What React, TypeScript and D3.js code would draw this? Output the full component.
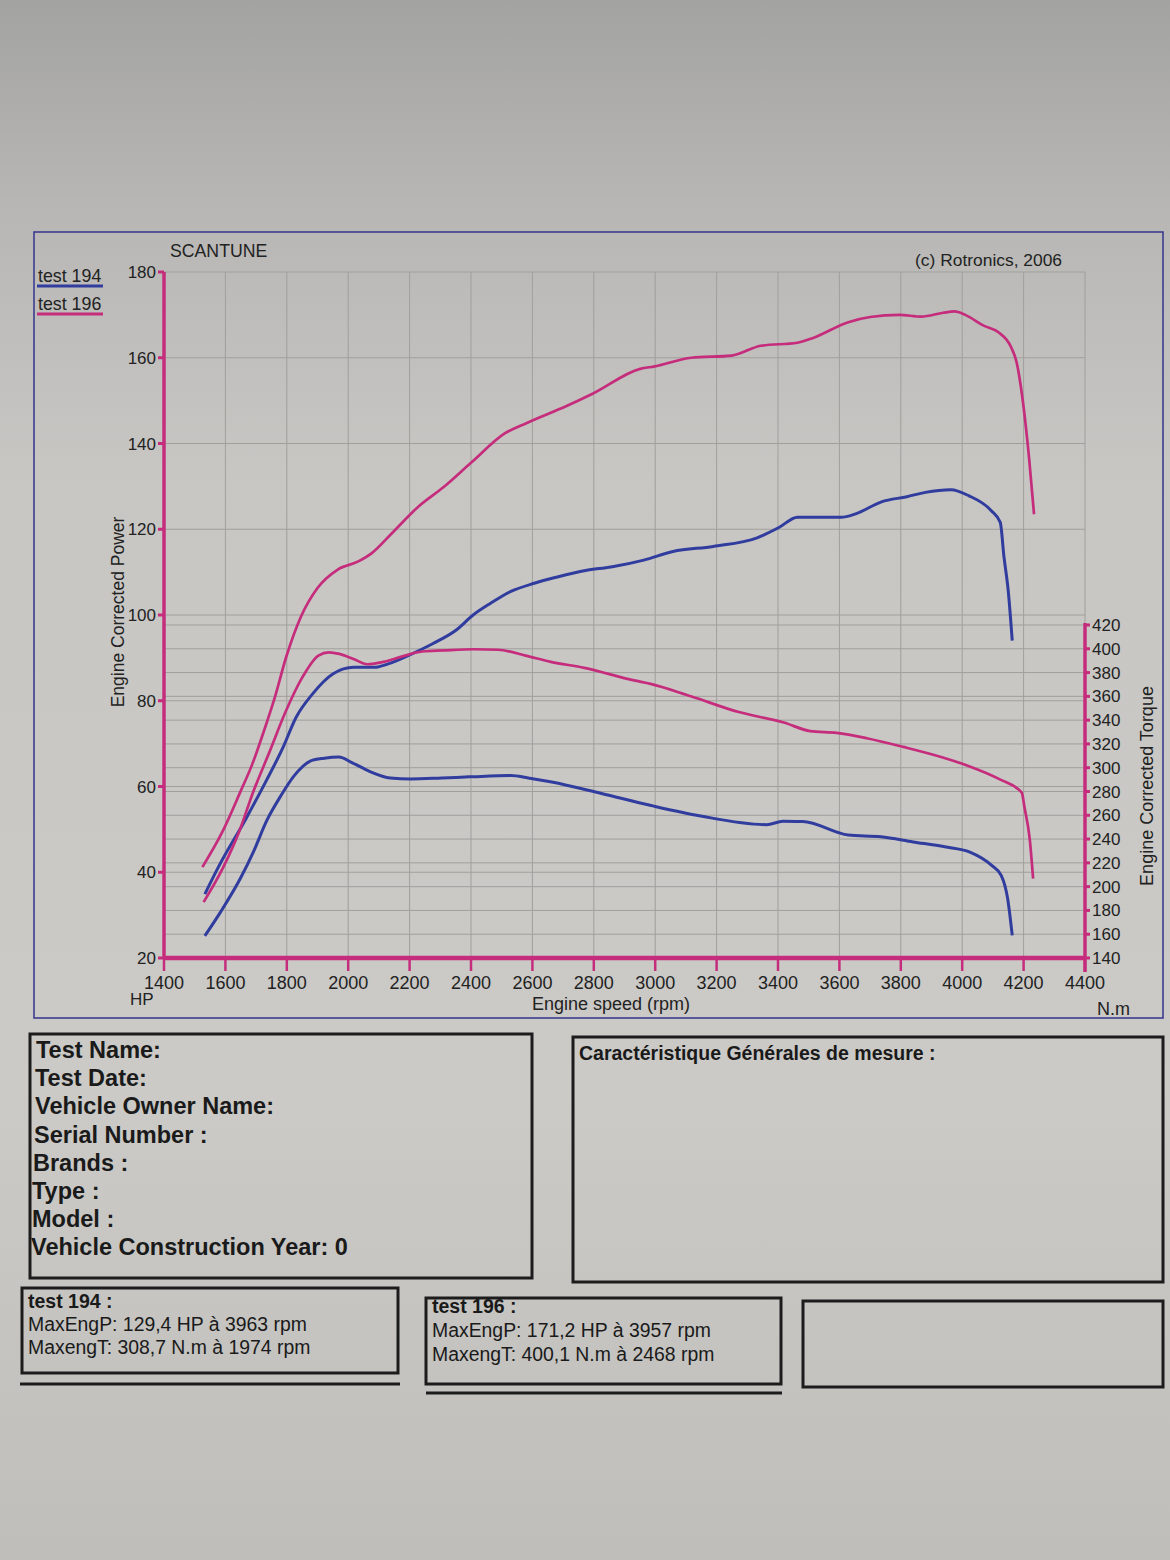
import React from 'react';
import * as d3 from 'd3';

// ---------- data ----------
const rpmTicks = [1400, 1600, 1800, 2000, 2200, 2400, 2600, 2800, 3000, 3200, 3400, 3600, 3800, 4000, 4200, 4400];
const hpTicks = [20, 40, 60, 80, 100, 120, 140, 160, 180];
const torqueTicks = [140, 160, 180, 200, 220, 240, 260, 280, 300, 320, 340, 360, 380, 400, 420];

const power194Rpm = [1533, 1580, 1667, 1732, 1787, 1830, 1884, 1951, 2018, 2085, 2130, 2197, 2275, 2352, 2407, 2463, 2530, 2606, 2677, 2773, 2856, 2963, 3058, 3189, 3332, 3403, 3463, 3606, 3653, 3737, 3820, 3880, 3963, 4022, 4094, 4124, 4136, 4150, 4163];
const power194Hp = [34.9, 41.6, 52.5, 61.2, 69, 76.1, 81.6, 86.3, 87.8, 87.8, 88.6, 90.6, 93.3, 96.5, 100, 102.7, 105.5, 107.4, 108.8, 110.4, 111.2, 112.8, 114.8, 116, 118, 120.4, 122.8, 122.8, 123.6, 126.4, 127.6, 128.6, 129.2, 127.8, 124.4, 121.6, 113.6, 105.6, 94];

const torque194Rpm = [1533, 1584, 1649, 1692, 1735, 1779, 1823, 1878, 1922, 1970, 2012, 2069, 2137, 2204, 2305, 2395, 2530, 2586, 2663, 2825, 2987, 3148, 3363, 3416, 3480, 3629, 3735, 3840, 3943, 4025, 4096, 4127, 4148, 4163];
const torque194Nm = [158.6, 178.6, 207, 229.7, 255.7, 275.7, 292.9, 305.7, 308, 309, 304.3, 297, 291.4, 290.6, 291.4, 292.3, 293.4, 291.4, 288, 278.3, 268.2, 259.4, 252.1, 254.9, 254.8, 243.4, 241.9, 237.6, 233.5, 229.1, 217.9, 209.5, 190, 159];

const power196Rpm = [1525, 1590, 1649, 1687, 1729, 1761, 1798, 1846, 1900, 1966, 2033, 2078, 2144, 2232, 2310, 2400, 2511, 2582, 2713, 2796, 2951, 2999, 3118, 3249, 3344, 3463, 3510, 3629, 3700, 3795, 3867, 3938, 3975, 4010, 4070, 4117, 4159, 4177, 4200, 4218, 4234];
const power196Hp = [41.2, 49.4, 58.8, 65.1, 73.7, 80.8, 90.2, 99.6, 106.3, 110.6, 112.5, 114.5, 119.2, 125.5, 129.8, 135.5, 142.4, 144.8, 148.8, 151.6, 157.4, 158, 160, 160.5, 162.8, 163.5, 164.5, 168.3, 169.5, 170, 169.6, 170.5, 170.8, 170, 167.5, 166, 162.5, 159, 148.5, 136.5, 123.5];

const torque196Rpm = [1529, 1592, 1646, 1689, 1743, 1796, 1850, 1903, 1937, 1971, 2017, 2063, 2107, 2174, 2241, 2309, 2409, 2488, 2578, 2660, 2769, 2931, 2985, 3116, 3269, 3419, 3505, 3591, 3689, 3808, 3934, 4018, 4121, 4194, 4203, 4220, 4231];
const torque196Nm = [187, 215.7, 247, 278.6, 312.9, 347, 375.7, 394.3, 397, 395.7, 391.4, 387, 388.6, 393.4, 397.7, 398.6, 399.6, 399.2, 394.3, 389, 384, 373.4, 370.5, 360.1, 347, 338, 330.8, 329.3, 324.8, 317.5, 308.8, 301.7, 290.4, 279, 266.5, 240, 206.7];

const legendNames = ['test 194', 'test 196'];
const infoLabels = ['Test Name:', 'Test Date:', 'Vehicle Owner Name:', 'Serial Number  :', 'Brands  :', 'Type  :', 'Model  :', 'Vehicle Construction Year: 0'];
const summary194 = ['test 194 :', 'MaxEngP: 129,4 HP à 3963 rpm', 'MaxengT: 308,7 N.m à 1974 rpm'];
const summary196 = ['test 196 :', 'MaxEngP: 171,2 HP à 3957 rpm', 'MaxengT: 400,1 N.m à 2468 rpm'];

// ---------- layout ----------
const W = 1170, H = 1560;
const xL = 164, xR = 1085, yT = 272, yB = 958;
const BLUE = '#303c9e';
const PINK = '#c62c7c';
const GRID = '#a09f9c';
const FONT = '"Liberation Sans", Arial, sans-serif';

const x = d3.scaleLinear().domain([1400, 4400]).range([xL, xR]);
const yHp = d3.scaleLinear().domain([20, 180]).range([yB, yT]);
const yNm = d3.scaleLinear().domain([140, 420]).range([yB, 625]);

const zip = (a: number[], b: number[]) => a.map((v, i) => [v, b[i]] as [number, number]);
const hpLine = d3.line<[number, number]>().x(d => x(d[0])).y(d => yHp(d[1])).curve(d3.curveMonotoneX);
const nmLine = d3.line<[number, number]>().x(d => x(d[0])).y(d => yNm(d[1])).curve(d3.curveMonotoneX);

export default function App() {
  return (
    <svg width={W} height={H} style={{ position: 'absolute', left: 0, top: 0 }} fontFamily={FONT}>
      <defs>
        <linearGradient id="paper" x1="0" y1="0" x2="0" y2="1">
          <stop offset="0" stopColor="#a3a3a2" />
          <stop offset="0.13" stopColor="#b7b6b4" />
          <stop offset="0.3" stopColor="#c7c6c3" />
          <stop offset="0.7" stopColor="#cbcac7" />
          <stop offset="1" stopColor="#bfbeba" />
        </linearGradient>
      </defs>
      <rect x={0} y={0} width={W} height={H} fill="url(#paper)" />

      {/* outer frame */}
      <rect x={34} y={232} width={1129} height={786} fill="none" stroke="#3c3c92" strokeWidth={1.6} />

      {/* grid */}
      {rpmTicks.slice(1).map(r => (
        <line key={'v' + r} x1={x(r)} x2={x(r)} y1={yT} y2={r === 4400 ? yNm(420) : yB} stroke={GRID} strokeWidth={1} />
      ))}
      {hpTicks.slice(1).map(h => (
        <line key={'h' + h} x1={xL} x2={xR} y1={yHp(h)} y2={yHp(h)} stroke={GRID} strokeWidth={1.2} />
      ))}
      {torqueTicks.slice(1).map(t => (
        <line key={'t' + t} x1={xL} x2={xR} y1={yNm(t)} y2={yNm(t)} stroke={GRID} strokeWidth={1} />
      ))}

      {/* curves */}
      <path d={hpLine(zip(power194Rpm, power194Hp)) || ''} fill="none" stroke={BLUE} strokeWidth={3} />
      <path d={nmLine(zip(torque194Rpm, torque194Nm)) || ''} fill="none" stroke={BLUE} strokeWidth={3} />
      <path d={hpLine(zip(power196Rpm, power196Hp)) || ''} fill="none" stroke={PINK} strokeWidth={2.7} />
      <path d={nmLine(zip(torque196Rpm, torque196Nm)) || ''} fill="none" stroke={PINK} strokeWidth={2.7} />

      {/* left HP axis */}
      <line x1={xL} x2={xL} y1={yT} y2={yB} stroke={PINK} strokeWidth={3.5} />
      {hpTicks.map(h => (
        <g key={'hl' + h}>
          <line x1={xL - 6} x2={xL} y1={yHp(h)} y2={yHp(h)} stroke={PINK} strokeWidth={3} />
          <text x={xL - 8} y={yHp(h) + 6} textAnchor="end" fontSize={17} fill="#222">{h}</text>
        </g>
      ))}

      {/* bottom rpm axis */}
      <line x1={xL} x2={xR} y1={yB} y2={yB} stroke={PINK} strokeWidth={4.5} />
      {rpmTicks.map(r => (
        <g key={'xl' + r}>
          <line x1={x(r)} x2={x(r)} y1={yB} y2={yB + 13} stroke={PINK} strokeWidth={2.5} />
          <text x={x(r)} y={yB + 31} textAnchor="middle" fontSize={18} fill="#222">{r}</text>
        </g>
      ))}

      {/* right torque axis */}
      <line x1={xR} x2={xR} y1={yNm(420) - 2} y2={yB + 14} stroke={PINK} strokeWidth={3.5} />
      {torqueTicks.map(t => (
        <g key={'tl' + t}>
          <line x1={xR} x2={xR + 5} y1={yNm(t)} y2={yNm(t)} stroke={PINK} strokeWidth={3} />
          <text x={xR + 7} y={yNm(t) + 6} textAnchor="start" fontSize={17} fill="#222">{t}</text>
        </g>
      ))}

      {/* axis titles */}
      <text x={130} y={1005} fontSize={17} fill="#222">HP</text>
      <text x={611} y={1010} textAnchor="middle" fontSize={18} fill="#222">Engine speed (rpm)</text>
      <text x={1097} y={1015} fontSize={18} fill="#222">N.m</text>
      <text transform="translate(124,612) rotate(-90)" textAnchor="middle" fontSize={17.5} fill="#222">Engine Corrected Power</text>
      <text transform="translate(1153,786) rotate(-90)" textAnchor="middle" fontSize={18} fill="#222">Engine Corrected Torque</text>
      <text x={170} y={257} fontSize={17.7} fill="#222">SCANTUNE</text>
      <text x={1062} y={266} textAnchor="end" fontSize={17.4} fill="#222">(c) Rotronics, 2006</text>

      {/* legend */}
      {legendNames.map((n, i) => (
        <g key={n}>
          <text x={38} y={282 + i * 28} fontSize={17.8} fill="#222">{n}</text>
          <line x1={37} x2={103} y1={286 + i * 28} y2={286 + i * 28} stroke={i === 0 ? BLUE : PINK} strokeWidth={3} />
        </g>
      ))}

      {/* info boxes */}
      <rect x={30} y={1034} width={502} height={244} fill="none" stroke="#1c1c1c" strokeWidth={3} />
      {infoLabels.map((t, i) => (
        <text key={t} x={36 - Math.round(i * 0.7)} y={1058 + i * 28.2} fontSize={23.5} fontWeight="bold" fill="#1a1a1a">{t}</text>
      ))}
      <rect x={573} y={1037} width={590} height={245} fill="none" stroke="#1c1c1c" strokeWidth={3} />
      <text x={579} y={1060} fontSize={19.5} fontWeight="bold" fill="#1a1a1a">Caractéristique Générales de mesure :</text>

      <rect x={22} y={1288} width={376} height={85} fill="none" stroke="#1c1c1c" strokeWidth={3} />
      <line x1={20} x2={400} y1={1384} y2={1384} stroke="#1c1c1c" strokeWidth={3} />
      {summary194.map((t, i) => (
        <text key={t} x={28} y={1308 + i * 23} fontSize={i === 0 ? 19.5 : 19.4} fontWeight={i === 0 ? 'bold' : 'normal'} fill="#1a1a1a">{t}</text>
      ))}

      <rect x={426} y={1298} width={355} height={86} fill="none" stroke="#1c1c1c" strokeWidth={3} />
      <line x1={426} x2={782} y1={1393} y2={1393} stroke="#1c1c1c" strokeWidth={3} />
      {summary196.map((t, i) => (
        <text key={t} x={432} y={1313 + i * 24} fontSize={i === 0 ? 19.5 : 19.4} fontWeight={i === 0 ? 'bold' : 'normal'} fill="#1a1a1a">{t}</text>
      ))}

      <rect x={803} y={1301} width={360} height={86} fill="none" stroke="#1c1c1c" strokeWidth={3} />
    </svg>
  );
}
